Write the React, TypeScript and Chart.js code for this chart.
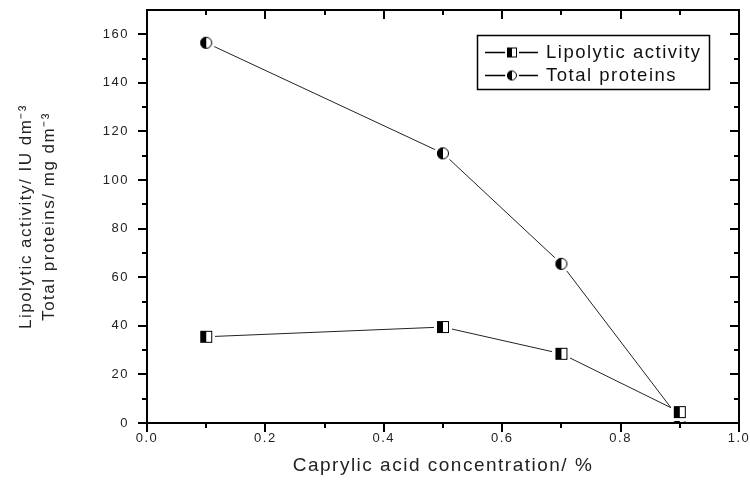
import React, { useEffect, useRef } from 'react';
import { Chart, registerables } from 'chart.js';

Chart.register(...registerables);

// ---- data ----
const CONCENTRATION = [0.1, 0.5, 0.7, 0.9];
const LIPOLYTIC_ACTIVITY = [35.5, 39.5, 28.5, 4.5];
const TOTAL_PROTEINS = [156.5, 111, 65.5, 1.5];
const SERIES_LABELS = ['Lipolytic activity', 'Total proteins'];
const X_TITLE = 'Caprylic acid concentration/ %';
const Y_TITLE = ['Lipolytic activity/ IU dm\u207B\u00B3', 'Total proteins/ mg dm\u207B\u00B3'];
const X_MIN = 0, X_MAX = 1, X_STEP = 0.2, X_MINOR = 0.1;
const Y_MIN = 0, Y_MAX = 170, Y_STEP = 20, Y_MINOR = 10, Y_LAST_TICK = 160;

const FONT = '"Liberation Sans", Arial, sans-serif';
const SPACING = '1.5px';

function makeMarker(shape: 'square' | 'circle', size: number, margin: number) {
  const c = document.createElement('canvas');
  const full = size + margin * 2;
  c.width = full;
  c.height = full;
  const g = c.getContext('2d')!;
  if (shape === 'square') {
    g.fillStyle = '#fff';
    g.fillRect(0, 0, full, full);
    g.fillStyle = '#000';
    g.fillRect(margin, margin, size / 2, size);
    g.strokeStyle = '#000';
    g.lineWidth = 1;
    g.strokeRect(margin + 0.5, margin + 0.5, size - 1, size - 1);
  } else {
    const cx = full / 2, cy = full / 2, r = size / 2;
    g.fillStyle = '#fff';
    g.beginPath();
    g.arc(cx, cy, r + margin, 0, Math.PI * 2);
    g.fill();
    g.fillStyle = '#000';
    g.beginPath();
    g.arc(cx, cy, r, Math.PI / 2, Math.PI * 1.5);
    g.closePath();
    g.fill();
    g.strokeStyle = '#000';
    g.lineWidth = 1;
    g.beginPath();
    g.arc(cx, cy, r - 0.5, 0, Math.PI * 2);
    g.stroke();
  }
  return c;
}

const spacingPlugin = {
  id: 'spacing',
  beforeUpdate(chart: any) { chart.ctx.letterSpacing = SPACING; },
  beforeDraw(chart: any) { chart.ctx.letterSpacing = SPACING; },
};

const framePlugin = {
  id: 'frame',
  afterDraw(chart: any) {
    const ctx = chart.ctx;
    const { left, right, top, bottom } = chart.chartArea;
    const xs = chart.scales.x, ys = chart.scales.y;
    ctx.save();
    ctx.strokeStyle = '#000';
    ctx.lineWidth = 2;
    ctx.strokeRect(left, top, right - left, bottom - top);
    ctx.beginPath();
    for (let v = Y_MIN; v <= Y_LAST_TICK + 0.001; v += Y_MINOR) {
      const y = Math.round(ys.getPixelForValue(v));
      const len = Math.abs(v % Y_STEP) < 0.001 ? 9 : 5;
      ctx.moveTo(left - len, y); ctx.lineTo(left, y);
      ctx.moveTo(right, y); ctx.lineTo(right - len, y);
    }
    const n = Math.round((X_MAX - X_MIN) / X_MINOR);
    for (let i = 0; i <= n; i++) {
      const v = X_MIN + i * X_MINOR;
      const x = Math.round(xs.getPixelForValue(v));
      const len = i % Math.round(X_STEP / X_MINOR) === 0 ? 9 : 5;
      ctx.moveTo(x, bottom); ctx.lineTo(x, bottom + len);
      ctx.moveTo(x, top); ctx.lineTo(x, top + len);
    }
    ctx.stroke();
    ctx.restore();
  },
};

function makeLegendPlugin(markers: HTMLCanvasElement[]) {
  return {
    id: 'customLegend',
    afterDraw(chart: any) {
      const ctx = chart.ctx;
      const bx = 477.5, by = 35.5, bw = 232, bh = 54;
      ctx.save();
      ctx.fillStyle = '#fff';
      ctx.fillRect(bx, by, bw, bh);
      ctx.strokeStyle = '#000';
      ctx.lineWidth = 1.5;
      ctx.strokeRect(bx, by, bw, bh);
      const rows = [52, 75];
      chart.data.datasets.forEach((ds: any, i: number) => {
        const y = rows[i];
        ctx.strokeStyle = '#000';
        ctx.lineWidth = 1.5;
        ctx.beginPath();
        ctx.moveTo(485, y + 0.5); ctx.lineTo(538, y + 0.5);
        ctx.stroke();
        const m = markers[i];
        ctx.drawImage(m, 512 - m.width / 2, y - m.height / 2 + 0.5);
        ctx.fillStyle = '#111';
        ctx.font = `18.5px ${FONT}`;
        ctx.letterSpacing = SPACING;
        ctx.textBaseline = 'middle';
        ctx.textAlign = 'left';
        ctx.fillText(ds.label, 546, y + 1);
      });
      ctx.restore();
    },
  };
}

export default function App() {
  const ref = useRef<HTMLCanvasElement>(null);
  useEffect(() => {
    const sq = makeMarker('square', 12, 3);
    const ci = makeMarker('circle', 12, 3);
    const sqL = makeMarker('square', 10, 2);
    const ciL = makeMarker('circle', 10, 2);
    const chart = new Chart(ref.current!, {
      type: 'line',
      data: {
        datasets: [
          {
            label: SERIES_LABELS[0],
            data: CONCENTRATION.map((x, i) => ({ x, y: LIPOLYTIC_ACTIVITY[i] })),
            borderColor: '#222',
            borderWidth: 1,
            pointStyle: sq as any,
            pointRadius: 6,
            tension: 0,
          },
          {
            label: SERIES_LABELS[1],
            data: CONCENTRATION.map((x, i) => ({ x, y: TOTAL_PROTEINS[i] })),
            borderColor: '#222',
            borderWidth: 1,
            pointStyle: ci as any,
            pointRadius: 6,
            tension: 0,
          },
        ],
      },
      options: {
        animation: false,
        responsive: false,
        events: [],
        layout: { padding: { top: 10, right: 11, left: 0, bottom: 0 } },
        plugins: { legend: { display: false }, tooltip: { enabled: false } },
        scales: {
          x: {
            type: 'linear',
            min: X_MIN,
            max: X_MAX,
            grid: { display: false, drawTicks: false },
            border: { display: false },
            ticks: {
              stepSize: X_STEP,
              padding: 8,
              color: '#222',
              font: { family: FONT, size: 13 },
              maxRotation: 0,
              callback: (v: any) => Number(v).toFixed(1),
            },
            title: {
              display: true,
              text: X_TITLE,
              color: '#222',
              font: { family: FONT, size: 19 },
              padding: { top: 0, bottom: 9 },
            },
            afterFit: (s: any) => { s.height = 63; s.paddingLeft = 0; s.paddingRight = 0; },
          },
          y: {
            type: 'linear',
            min: Y_MIN,
            max: Y_MAX,
            grid: { display: false, drawTicks: false },
            border: { display: false },
            afterBuildTicks: (s: any) => { s.ticks = s.ticks.filter((t: any) => t.value % Y_STEP === 0 && t.value <= Y_LAST_TICK); },
            ticks: {
              stepSize: Y_STEP,
              padding: 18,
              color: '#222',
              font: { family: FONT, size: 13 },
            },
            title: {
              display: true,
              text: Y_TITLE,
              color: '#222',
              font: { family: FONT, size: 17, lineHeight: 1.35 },
              padding: { top: 15, bottom: 0 },
            },
            afterFit: (s: any) => { s.width = 147; s.paddingTop = 0; s.paddingBottom = 0; },
          },
        },
      },
      plugins: [spacingPlugin, framePlugin, makeLegendPlugin([sqL, ciL])],
    } as any);
    return () => chart.destroy();
  }, []);
  return (
    <div style={{ position: 'absolute', left: 0, top: 0, width: 750, height: 486, background: '#fff' }}>
      <canvas ref={ref} width={750} height={486} />
    </div>
  );
}
